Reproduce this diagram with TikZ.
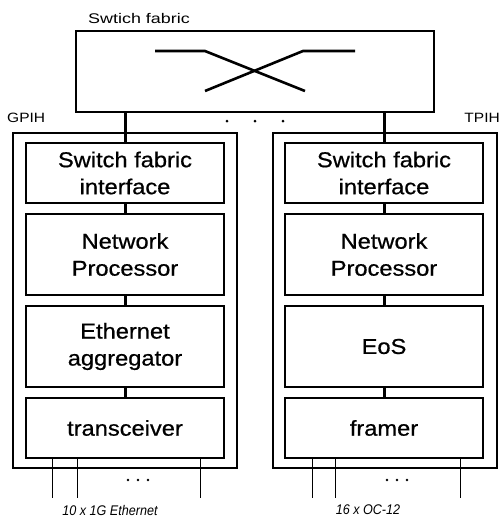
\documentclass[tikz,border=0pt]{standalone}
\usepackage{fontspec}
\setmainfont{Liberation Sans}
\newfontfamily\boxfont{Liberation Sans}[FakeStretch=1.1,FakeBold=0.7]
\newfontfamily\lblfont{Liberation Sans}[FakeStretch=1.28]
\newfontfamily\hostfont{Liberation Sans}[FakeStretch=1.15]
\newfontfamily\busfont{Liberation Sans}[FakeStretch=0.9]
\begin{document}
\begin{tikzpicture}[x=1pt,y=-1pt,
  blk/.style={draw, line width=1.1pt, minimum width=198pt, inner sep=0pt, align=center,
    font=\boxfont\fontsize{21.5}{27}\selectfont},
  outerbox/.style={draw, line width=1.1pt, minimum width=224pt, minimum height=335pt, inner sep=0pt},
  bus/.style={line width=3pt},
  xline/.style={line width=2.6pt},
  port/.style={line width=0.9pt},
  lbl/.style={font=\lblfont\fontsize{14}{16}\selectfont, inner sep=0pt},
  hostlbl/.style={font=\hostfont\fontsize{13.5}{16}\selectfont, inner sep=0pt},
  buslbl/.style={font=\busfont\itshape\fontsize{14}{16}\selectfont, inner sep=0pt},
  dot/.style={fill, circle, inner sep=0pt, minimum size=3pt}
]
\useasboundingbox (0,0) rectangle (500,520);

% switch fabric
\node[draw, line width=1.1pt, minimum width=358pt, minimum height=81pt, inner sep=0pt] (fab) at (255,71.5) {};
\node[lbl, anchor=west] (fablbl) at (88,18) {Swtich fabric};
\draw[xline] (155,51) -- (205,51) -- (305,91);
\draw[xline] (355,51) -- (303,51) -- (205,91);

% outer boxes
\node[outerbox] (gpih) at (125,300.5) {};
\node[outerbox] (tpih) at (385,300.5) {};
\node[hostlbl, anchor=west] (gpihlbl) at (7,118) {GPIH};
\node[hostlbl, anchor=east] (tpihlbl) at (500,118) {TPIH};

\node[dot] (d1) at (227,121) {};
\node[dot] (d2) at (255,121) {};
\node[dot] (d3) at (283,121) {};

% left column
\node[blk, minimum height=60pt] (lsfi) at (125,173) {Switch fabric\\interface};
\node[blk, minimum height=81pt] (lnp) at (125,254.5) {Network\\Processor};
\node[blk, minimum height=81pt] (lea) at (125,346.5) {Ethernet\\aggregator};
\node[blk, minimum height=60pt] (ltr) at (125,428) {transceiver};

% right column
\node[blk, minimum height=60pt] (rsfi) at (384,173) {Switch fabric\\interface};
\node[blk, minimum height=81pt] (rnp) at (384,254.5) {Network\\Processor};
\node[blk, minimum height=81pt] (reos) at (384,346.5) {EoS};
\node[blk, minimum height=60pt] (rfr) at (384,428) {framer};

% thick connectors
\draw[bus] (fab.south -| lsfi.north) -- (lsfi.north);
\draw[bus] (lsfi) -- (lnp);
\draw[bus] (lnp) -- (lea);
\draw[bus] (lea) -- (ltr);
\draw[bus] (rsfi.north |- fab.south) -- (rsfi.north);
\draw[bus] (rsfi) -- (rnp);
\draw[bus] (rnp) -- (reos);
\draw[bus] (reos) -- (rfr);

% ports
\coordinate (lp1) at (52,498);
\coordinate (lp2) at (77,498);
\coordinate (lp3) at (200,498);
\coordinate (rp1) at (312,498);
\coordinate (rp2) at (335,498);
\coordinate (rp3) at (460,498);
\foreach \p in {lp1,lp2,lp3} \draw[port] (ltr.south -| \p) -- (\p);
\foreach \p in {rp1,rp2,rp3} \draw[port] (rfr.south -| \p) -- (\p);

\node[dot, minimum size=2.8pt] (ld1) at (128,480) {};
\node[dot, minimum size=2.8pt] (ld2) at (138,480) {};
\node[dot, minimum size=2.8pt] (ld3) at (148,480) {};
\node[dot, minimum size=2.8pt] (rd1) at (387,480) {};
\node[dot, minimum size=2.8pt] (rd2) at (397,480) {};
\node[dot, minimum size=2.8pt] (rd3) at (407,480) {};

\node[buslbl] (lbus) at (110,510) {10 x 1G Ethernet};
\node[buslbl] (rbus) at (368,510) {16 x OC-12};
\end{tikzpicture}
\end{document}
